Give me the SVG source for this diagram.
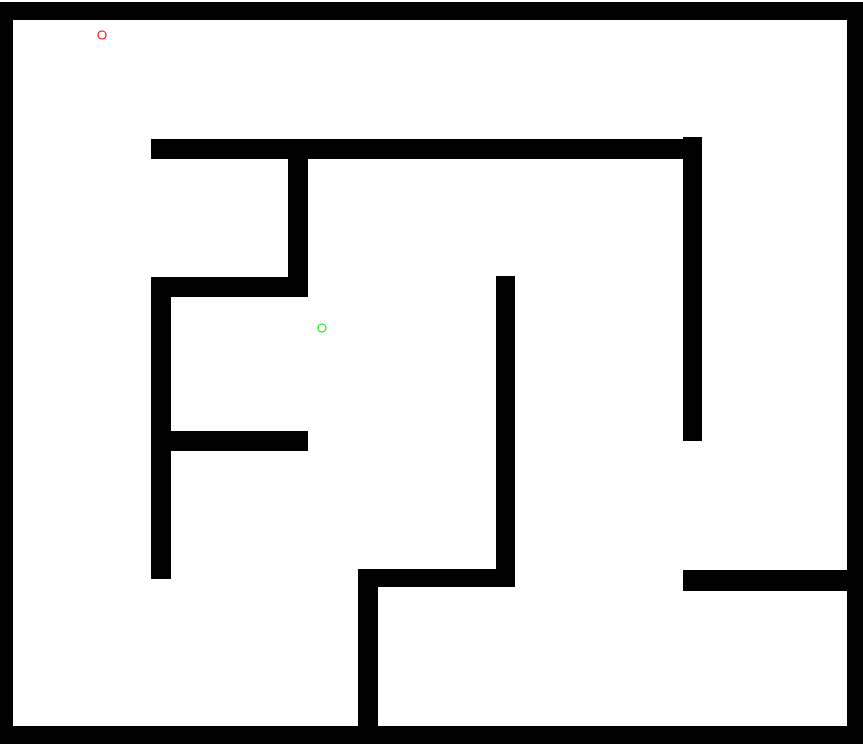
<svg xmlns="http://www.w3.org/2000/svg" width="863" height="744" viewBox="0 0 863 744">
<style>
.w{fill:#000}
.m{fill:none;stroke-width:1.2}
</style>
<rect x="0" y="0" width="863" height="744" fill="#fff"/>
<g id="border">
<rect class="w" x="0" y="2" width="863" height="18"/>
<rect class="w" x="0" y="2" width="13" height="742"/>
<rect class="w" x="847" y="2" width="16" height="742"/>
<rect class="w" x="0" y="726" width="863" height="18"/>
</g>
<g id="walls">
<rect class="w" x="151" y="139" width="533" height="20"/>
<rect class="w" x="683" y="137" width="19" height="304"/>
<rect class="w" x="288" y="139" width="20" height="158"/>
<rect class="w" x="151" y="277" width="157" height="20"/>
<rect class="w" x="151" y="277" width="20" height="302"/>
<rect class="w" x="151" y="431" width="157" height="20"/>
<rect class="w" x="496" y="276" width="19" height="311"/>
<rect class="w" x="358" y="569" width="157" height="18"/>
<rect class="w" x="358" y="569" width="20" height="160"/>
<rect class="w" x="683" y="570" width="166" height="21"/>
</g>
<circle id="start" class="m" cx="102" cy="35" r="4" stroke="#ff0000"/>
<circle id="goal" class="m" cx="322" cy="328" r="4" stroke="#00ee00"/>
</svg>
